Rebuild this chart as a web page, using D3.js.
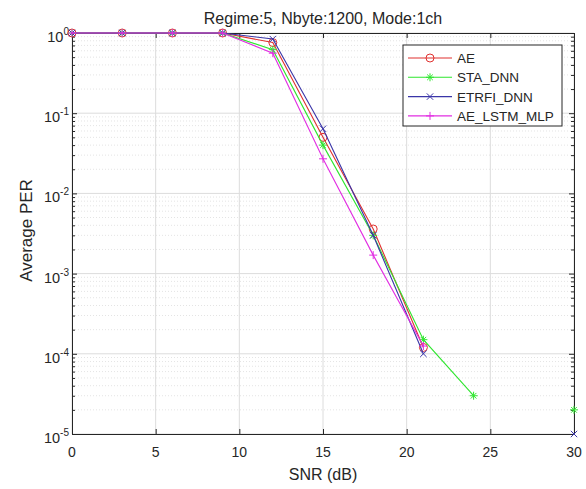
<!DOCTYPE html>
<html>
<head>
<meta charset="utf-8">
<script src="https://cdn.jsdelivr.net/npm/d3@7"></script>
<style>
  body { margin: 0; background: #fff; }
  text { font-family: "Liberation Sans", Arial, sans-serif; fill: #262626; }
</style>
</head>
<body>
<div class="chart"></div>
<script>
// data (null = no packet errors, not drawn on log axis)
const snr = [0, 3, 6, 9, 12, 15, 18, 21, 24, 27, 30];
const perAE = [1, 1, 1, 1, 0.76, 0.05, 0.0036, 1.2e-4, null, null, null];
const perSTA = [1, 1, 1, 1, 0.62, 0.04, 0.003, 1.5e-4, 3e-5, null, 2e-5];
const perETRFI = [1, 1, 1, 1, 0.84, 0.064, 0.003, 1.0e-4, null, null, 1e-5];
const perLSTM = [1, 1, 1, 1, 0.56, 0.027, 0.0017, 1.25e-4, null, null, null];
const seriesNames = ["AE", "STA_DNN", "ETRFI_DNN", "AE_LSTM_MLP"];
const xTicks = [0, 5, 10, 15, 20, 25, 30];
const yExps = [0, -1, -2, -3, -4, -5];

const W = 586, H = 489;
const margin = { top: 33, right: 12, bottom: 55, left: 72 };
const width = W - margin.left - margin.right,
  height = H - margin.top - margin.bottom;

const colors = ["#e0312f", "#2ee62e", "#3a35a8", "#e22ee2"];
const markers = ["circle", "star", "x", "plus"];
const allSeries = [perAE, perSTA, perETRFI, perLSTM].map(function (vals, i) {
  return {
    name: seriesNames[i], color: colors[i], marker: markers[i],
    pts: snr.map(function (s, j) { return { x: s, y: vals[j] }; })
  };
});

const x = d3.scaleLinear().domain([0, 30]).range([0, width]);
const y = d3.scaleLog().domain([1e-5, 1]).range([height, 0]);

const svg = d3.select(".chart").append("svg")
  .attr("width", W).attr("height", H);
svg.append("rect").attr("width", W).attr("height", H).attr("fill", "#fff");

const g = svg.append("g")
  .attr("transform", "translate(" + margin.left + "," + margin.top + ")");

// minor log values
let minor = [];
for (let e = -5; e < 0; e++) {
  for (let m = 2; m <= 9; m++) minor.push(m * Math.pow(10, e));
}

// grid
g.append("g").selectAll("line").data(minor).enter().append("line")
  .attr("x1", 0).attr("x2", width)
  .attr("y1", function (d) { return y(d); }).attr("y2", function (d) { return y(d); })
  .attr("stroke", "#e4e4e4").attr("stroke-dasharray", "1,2").attr("stroke-width", 1);
g.append("g").selectAll("line").data(yExps).enter().append("line")
  .attr("x1", 0).attr("x2", width)
  .attr("y1", function (d) { return y(Math.pow(10, d)); }).attr("y2", function (d) { return y(Math.pow(10, d)); })
  .attr("stroke", "#dcdcdc").attr("stroke-width", 1);
g.append("g").selectAll("line").data(xTicks).enter().append("line")
  .attr("x1", function (d) { return x(d); }).attr("x2", function (d) { return x(d); })
  .attr("y1", 0).attr("y2", height)
  .attr("stroke", "#dcdcdc").attr("stroke-width", 1);

// axes (ticks inward, box on)
const tickLen = 5;
const xAxisB = d3.axisTop(x).tickValues(xTicks).tickSize(tickLen).tickFormat("");
const xAxisT = d3.axisBottom(x).tickValues(xTicks).tickSize(tickLen).tickFormat("");
g.append("g").attr("class", "axis").attr("transform", "translate(0," + height + ")").call(xAxisB);
g.append("g").attr("class", "axis").call(xAxisT);

const yAxisL = d3.axisRight(y).tickValues(yExps.map(function (e) { return Math.pow(10, e); })).tickSize(tickLen).tickFormat("");
const yAxisR = d3.axisLeft(y).tickValues(yExps.map(function (e) { return Math.pow(10, e); })).tickSize(tickLen).tickFormat("");
g.append("g").attr("class", "axis").call(yAxisL);
g.append("g").attr("class", "axis").attr("transform", "translate(" + width + ",0)").call(yAxisR);
g.append("g").attr("class", "axis").call(d3.axisRight(y).tickValues(minor).tickSize(3).tickFormat(""));
g.append("g").attr("class", "axis").attr("transform", "translate(" + width + ",0)")
  .call(d3.axisLeft(y).tickValues(minor).tickSize(3).tickFormat(""));

g.selectAll(".axis .domain").attr("stroke", "#262626").attr("stroke-width", 1);
g.selectAll(".axis .tick line").attr("stroke", "#262626");

// tick labels
g.append("g").selectAll("text").data(xTicks).enter().append("text")
  .attr("x", function (d) { return x(d); })
  .attr("y", height + 23)
  .attr("text-anchor", "middle")
  .attr("font-size", "14px")
  .text(function (d) { return d; });

const yl = g.append("g").selectAll("text").data(yExps).enter().append("text")
  .attr("x", -3)
  .attr("y", function (d) { return y(Math.pow(10, d)) + 9; })
  .attr("text-anchor", "end")
  .attr("font-size", "14.5px");
yl.append("tspan").text("10");
yl.append("tspan").attr("dy", -7).attr("font-size", "10px").text(function (d) { return d; });

// labels
svg.append("text").attr("x", margin.left + width / 2).attr("y", 24)
  .attr("text-anchor", "middle").attr("font-size", "16px")
  .text("Regime:5, Nbyte:1200, Mode:1ch");
svg.append("text").attr("x", margin.left + width / 2).attr("y", 480)
  .attr("text-anchor", "middle").attr("font-size", "16px")
  .text("SNR (dB)");
svg.append("text")
  .attr("transform", "translate(32," + (margin.top + height / 2 - 3) + ") rotate(-90)")
  .attr("text-anchor", "middle").attr("font-size", "17px")
  .text("Average PER");

// markers
function drawMarker(sel, type, color, r) {
  if (type === "circle") {
    sel.append("circle").attr("r", r).attr("fill", "none").attr("stroke", color);
  } else {
    let segs = [];
    if (type === "plus" || type === "star") segs.push([-r, 0, r, 0], [0, -r, 0, r]);
    if (type === "x" || type === "star") {
      const k = type === "star" ? r * 0.7 : r * 0.8;
      segs.push([-k, -k, k, k], [-k, k, k, -k]);
    }
    segs.forEach(function (s) {
      sel.append("line").attr("x1", s[0]).attr("y1", s[1]).attr("x2", s[2]).attr("y2", s[3])
        .attr("stroke", color).attr("stroke-width", 1);
    });
  }
}

const line = d3.line()
  .defined(function (d) { return d.y != null; })
  .x(function (d) { return x(d.x); })
  .y(function (d) { return y(d.y); });

allSeries.forEach(function (s) {
  const sg = g.append("g");
  sg.append("path").datum(s.pts).attr("d", line)
    .attr("fill", "none").attr("stroke", s.color).attr("stroke-width", 1.1);
  sg.selectAll("g.m").data(s.pts.filter(function (d) { return d.y != null; }))
    .enter().append("g").attr("class", "m")
    .attr("transform", function (d) { return "translate(" + x(d.x) + "," + y(d.y) + ")"; })
    .each(function () { drawMarker(d3.select(this), s.marker, s.color, 4); });
});

// legend
const lg = svg.append("g").attr("transform", "translate(403,45)");
lg.append("rect").attr("width", 159).attr("height", 81)
  .attr("fill", "#fff").attr("stroke", "#262626").attr("stroke-width", 1);
allSeries.forEach(function (s, i) {
  const ly = 13 + i * 19.3;
  lg.append("line").attr("x1", 5).attr("x2", 49).attr("y1", ly).attr("y2", ly)
    .attr("stroke", s.color).attr("stroke-width", 1.1);
  const mg = lg.append("g").attr("transform", "translate(27," + ly + ")");
  drawMarker(mg, s.marker, s.color, 4);
  lg.append("text").attr("x", 54).attr("y", ly + 5).attr("font-size", "13.5px").text(s.name);
});
</script>
</body>
</html>
